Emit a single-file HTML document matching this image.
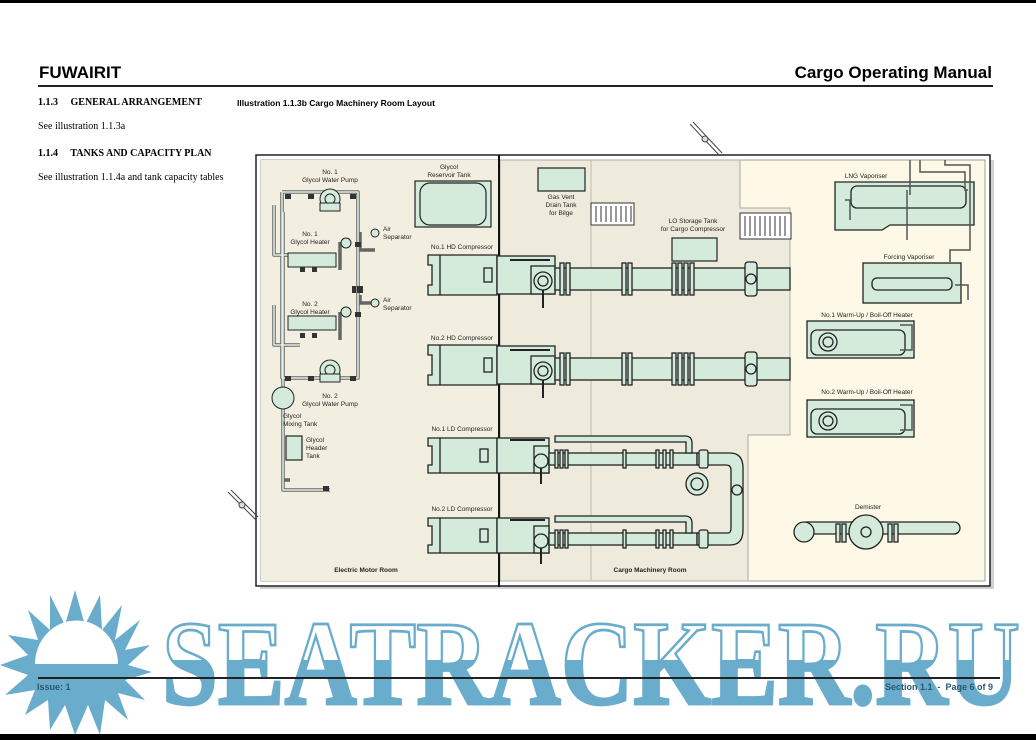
<!DOCTYPE html>
<html><head><meta charset="utf-8"><style>
html,body{margin:0;padding:0;background:#fff;}
body{width:1036px;height:740px;position:relative;overflow:hidden;font-family:"Liberation Sans",sans-serif;}
.t{position:absolute;white-space:nowrap;}
</style></head><body>
<div style="position:absolute;left:0;top:0;width:1036px;height:3px;background:#000"></div>
<div class="t" style="left:39px;top:63px;font-size:17px;font-weight:bold;">FUWAIRIT</div>
<div class="t" style="right:44px;top:63px;font-size:17px;font-weight:bold;">Cargo Operating Manual</div>
<div style="position:absolute;left:38px;top:85px;width:955px;height:2px;background:#222"></div>
<div class="t" style="left:38px;top:97px;font:bold 10px 'Liberation Serif',serif;">1.1.3&nbsp;&nbsp;&nbsp;&nbsp; GENERAL ARRANGEMENT</div>
<div class="t" style="left:237px;top:98px;font-size:8.5px;font-weight:bold;">Illustration 1.1.3b Cargo Machinery Room Layout</div>
<div class="t" style="left:38px;top:121px;font:10px 'Liberation Serif',serif;">See illustration 1.1.3a</div>
<div class="t" style="left:38px;top:148px;font:bold 10px 'Liberation Serif',serif;">1.1.4&nbsp;&nbsp;&nbsp;&nbsp; TANKS AND CAPACITY PLAN</div>
<div class="t" style="left:38px;top:172px;font:10px 'Liberation Serif',serif;">See illustration 1.1.4a and tank capacity tables</div>

<svg style="position:absolute;left:0;top:0" width="1036" height="740" font-family="Liberation Sans, sans-serif">
<defs>
<linearGradient id="wm" x1="0" y1="0" x2="0" y2="1"><stop offset="0.47" stop-color="#fff"/><stop offset="0.47" stop-color="#6aaccc"/></linearGradient>
</defs>
<rect x="260" y="160" width="734" height="429" fill="#d0d0d0"/>
<rect x="256" y="155" width="734" height="431" fill="#fff" stroke="#222" stroke-width="1.5"/>
<rect x="261" y="160" width="724" height="421" fill="#fdf9e6" stroke="#888" stroke-width="0.8"/>
<rect x="261" y="160" width="238" height="421" fill="#f3efe0"/>
<path d="M500,160 H740 V208 H790 V435 H748 V581 H500 Z" fill="#efebdc" stroke="#aaa" stroke-width="1"/>
<line x1="591" y1="160" x2="591" y2="581" stroke="#c8c4b4" stroke-width="1.2"/>
<line x1="499" y1="155" x2="499" y2="587" stroke="#111" stroke-width="2"/>
<g stroke="#444" stroke-width="1" fill="#ddd"><line x1="690" y1="124" x2="719" y2="155"/><line x1="693" y1="122" x2="722" y2="153"/><circle cx="705" cy="139" r="3"/>
<line x1="228" y1="492" x2="256" y2="520"/><line x1="231" y1="490" x2="258" y2="517"/><circle cx="242" cy="505" r="3"/></g>
<g stroke="#333" fill="#fff"><rect x="591" y="203" width="43" height="22"/><rect x="740" y="213" width="51" height="26"/></g>
<g stroke="#333" stroke-width="1">
<path d="M596,206V222M601,206V222M606,206V222M611,206V222M616,206V222M621,206V222M626,206V222M631,206V222"/>
<path d="M745,216V236M750,216V236M755,216V236M760,216V236M765,216V236M770,216V236M775,216V236M780,216V236M785,216V236"/></g>
<g stroke="#222" fill="#d4ebdc" stroke-width="1.2">
<rect x="415" y="181" width="76" height="46"/>
<rect x="420" y="183" width="66" height="42" rx="10"/>
<rect x="538" y="168" width="47" height="23"/>
<rect x="672" y="238" width="45" height="23"/>
<rect x="286" y="436" width="16" height="24"/>
</g>
<g fill="none" stroke="#666" stroke-width="3.5" stroke-linejoin="round">
<path d="M282,192H358V378H282V192"/><path d="M274,205V255H300M274,305V345H300M283,212V490H330M283,480H290"/>
<path d="M340,242V270M340,312V340M360,232V250H375M360,295V303H375"/>
</g>
<g fill="none" stroke="#e2efe8" stroke-width="1.5" stroke-linejoin="round">
<path d="M282,192H358V378H282V192"/><path d="M274,205V255H300M274,305V345H300M283,212V490H330"/>
</g>
<g stroke="#222" fill="#d4ebdc" stroke-width="1">
<rect x="288" y="253" width="48" height="14"/><rect x="288" y="316" width="48" height="14"/>
<circle cx="330" cy="199" r="10"/><circle cx="330" cy="199" r="5" fill="none"/><rect x="320" y="203" width="20" height="8"/>
<circle cx="330" cy="370" r="10"/><circle cx="330" cy="370" r="5" fill="none"/><rect x="320" y="374" width="20" height="8"/>
<circle cx="346" cy="243" r="5"/><circle cx="346" cy="312" r="5"/>
<circle cx="283" cy="398" r="11"/>
<circle cx="375" cy="233" r="4"/><circle cx="375" cy="303" r="4"/>
</g>
<g fill="#333"><rect x="285" y="194" width="6" height="5"/><rect x="308" y="194" width="6" height="5"/><rect x="350" y="194" width="6" height="5"/>
<rect x="285" y="376" width="6" height="5"/><rect x="308" y="376" width="6" height="5"/><rect x="350" y="376" width="6" height="5"/>
<rect x="357" y="286" width="6" height="7"/><rect x="352" y="286" width="4" height="7"/><rect x="355" y="242" width="6" height="5"/><rect x="355" y="312" width="6" height="5"/>
<rect x="300" y="267" width="5" height="5"/><rect x="312" y="267" width="5" height="5"/><rect x="300" y="333" width="5" height="5"/><rect x="312" y="333" width="5" height="5"/>
<rect x="323" y="486" width="6" height="5"/></g>
<g id="hd" stroke="#222" stroke-width="1.3" fill="#d4ebdc">
<path d="M428,255H497V295H428V285H432V265H428Z"/><line x1="440" y1="255" x2="440" y2="295"/>
<rect x="484" y="268" width="8" height="14"/>
<rect x="497" y="256" width="58" height="38"/><rect x="531" y="266" width="24" height="28"/>
<circle cx="543" cy="281" r="9"/><circle cx="543" cy="281" r="5" fill="none"/>
<line x1="510" y1="260" x2="550" y2="260" stroke-width="2"/>
<line x1="543" y1="290" x2="543" y2="308" stroke-width="2"/>
<rect x="555" y="268" width="235" height="22"/>
<rect x="560" y="263" width="4" height="32"/><rect x="566" y="263" width="4" height="32"/>
<rect x="622" y="263" width="4" height="32"/><rect x="628" y="263" width="4" height="32"/>
<rect x="672" y="263" width="4" height="32"/><rect x="678" y="263" width="4" height="32"/><rect x="684" y="263" width="4" height="32"/><rect x="690" y="263" width="4" height="32"/>
<rect x="745" y="262" width="12" height="34" rx="3"/><circle cx="751" cy="279" r="5"/>
</g>
<use href="#hd" y="90"/>
<g id="ld" stroke="#222" stroke-width="1.3" fill="#d4ebdc">
<path d="M428,438H497V473H428V465H432V446H428Z"/><line x1="440" y1="438" x2="440" y2="473"/>
<rect x="480" y="449" width="8" height="13"/>
<rect x="497" y="438" width="52" height="35"/><rect x="534" y="446" width="15" height="27"/>
<circle cx="541" cy="461" r="7"/><line x1="541" y1="468" x2="541" y2="484" stroke-width="2"/>
<line x1="510" y1="440" x2="545" y2="440" stroke-width="2"/>
<rect x="549" y="453" width="148" height="12"/>
<rect x="555" y="450" width="3" height="18"/><rect x="560" y="450" width="3" height="18"/><rect x="565" y="450" width="3" height="18"/><rect x="623" y="450" width="3" height="18"/><rect x="656" y="450" width="3" height="18"/><rect x="663" y="450" width="3" height="18"/><rect x="670" y="450" width="3" height="18"/>
<path d="M555,436H685Q692,436 692,443V453H686V442H555Z"/>
</g>
<use href="#ld" y="80"/>
<g stroke="#222" stroke-width="1.3" fill="#d4ebdc">
<path d="M697,453H730Q743,453 743,468V530Q743,545 730,545H697V533H728Q731,533 731,528V470Q731,465 726,465H697Z"/>
<circle cx="737" cy="490" r="5"/>
<rect x="699" y="450" width="9" height="18" rx="2"/><rect x="699" y="530" width="9" height="18" rx="2"/>
<circle cx="697" cy="484" r="11"/><circle cx="697" cy="484" r="6" fill="none"/>
<rect x="800" y="522" width="160" height="12" rx="6"/>
<circle cx="804" cy="532" r="10"/><circle cx="866" cy="532" r="17"/><circle cx="866" cy="532" r="5" fill="none"/>
<rect x="836" y="524" width="4" height="18"/><rect x="842" y="524" width="4" height="18"/><rect x="888" y="524" width="4" height="18"/><rect x="894" y="524" width="4" height="18"/>
<path d="M835,182H974V225H890L882,230H835Z"/>
<rect x="851" y="186" width="115" height="22" rx="6"/>
<rect x="863" y="263" width="98" height="40"/><rect x="872" y="278" width="80" height="12" rx="5"/>
<rect x="807" y="321" width="107" height="37"/><rect x="811" y="330" width="94" height="25" rx="6"/><circle cx="828" cy="342" r="9"/><circle cx="828" cy="342" r="5" fill="none"/>
<rect x="807" y="400" width="107" height="37"/><rect x="811" y="409" width="94" height="25" rx="6"/><circle cx="828" cy="421" r="9"/><circle cx="828" cy="421" r="5" fill="none"/>
</g>
<g fill="none" stroke="#555" stroke-width="1.5">
<path d="M910,160V195M920,160V172H965V190H968M945,160V165H970V250H950V262"/>
<path d="M955,285H968V300M907,190V240"/>
<path d="M845,200H850V220M900,325H912V350H900"/><path d="M900,405H912V430H900"/>
</g>
<g font-size="6.5" fill="#222" text-anchor="middle">
<text x="330" y="174">No. 1</text><text x="330" y="182">Glycol Water Pump</text>
<text x="310" y="236">No. 1</text><text x="310" y="244">Glycol Heater</text>
<text x="310" y="306">No. 2</text><text x="310" y="314">Glycol Heater</text>
<text x="330" y="398">No. 2</text><text x="330" y="406">Glycol Water Pump</text>
<text x="449" y="169">Glycol</text><text x="449" y="177">Reservoir Tank</text>
<text x="561" y="199">Gas Vent</text><text x="561" y="207">Drain Tank</text><text x="561" y="215">for Bilge</text>
<text x="693" y="223">LO Storage Tank</text><text x="693" y="231">for Cargo Compressor</text>
<text x="462" y="249">No.1 HD Compressor</text><text x="462" y="340">No.2 HD Compressor</text>
<text x="462" y="431">No.1 LD Compressor</text><text x="462" y="511">No.2 LD Compressor</text>
<text x="866" y="178">LNG Vaporiser</text><text x="909" y="259">Forcing Vaporiser</text>
<text x="867" y="317">No.1 Warm-Up / Boil-Off Heater</text><text x="867" y="394">No.2 Warm-Up / Boil-Off Heater</text>
<text x="868" y="509">Demister</text>
<text x="366" y="572" font-weight="bold">Electric Motor Room</text><text x="650" y="572" font-weight="bold">Cargo Machinery Room</text>
</g>
<g font-size="6.5" fill="#222">
<text x="383" y="231">Air</text><text x="383" y="239">Separator</text>
<text x="383" y="302">Air</text><text x="383" y="310">Separator</text>
<text x="283" y="418">Glycol</text><text x="283" y="426">Mixing Tank</text>
<text x="306" y="442">Glycol</text><text x="306" y="450">Header</text><text x="306" y="458">Tank</text>
</g>
<g fill="#6aaccc">
<polygon points="75,590 85,625 100,595 102,630 122,605 115,640 140,620 125,650 150,645 128,665 152,672 125,680 145,700 118,693 128,720 105,700 100,735 88,705 75,735 65,705 50,730 48,700 25,715 35,690 5,695 28,675 0,665 28,655 8,635 38,640 28,610 50,630 50,595 65,625"/>
</g>
<path d="M35,664 A40,42 0 0 1 118,664 Z" fill="#fff"/>
<g transform="translate(0,706) scale(1,1.08) translate(0,-706)">
<text x="162" y="704" font-family="Liberation Serif, serif" font-weight="bold" font-size="112" textLength="858" lengthAdjust="spacingAndGlyphs" fill="url(#wm)" stroke="#6aaccc" stroke-width="2.5">SEATRACKER.RU</text>
</g>
</svg>
<div style="position:absolute;left:38px;top:677px;width:962px;height:2px;background:#222"></div>
<div class="t" style="left:37px;top:682px;font-size:9px;font-weight:bold;color:#2d5870;">Issue: 1</div>
<div class="t" style="right:43px;top:682px;font-size:9px;font-weight:bold;color:#2d5870;">Section 1.1&nbsp; -&nbsp; Page 6 of 9</div>
<div style="position:absolute;left:0;top:734px;width:1036px;height:6px;background:#000"></div>
</body></html>
